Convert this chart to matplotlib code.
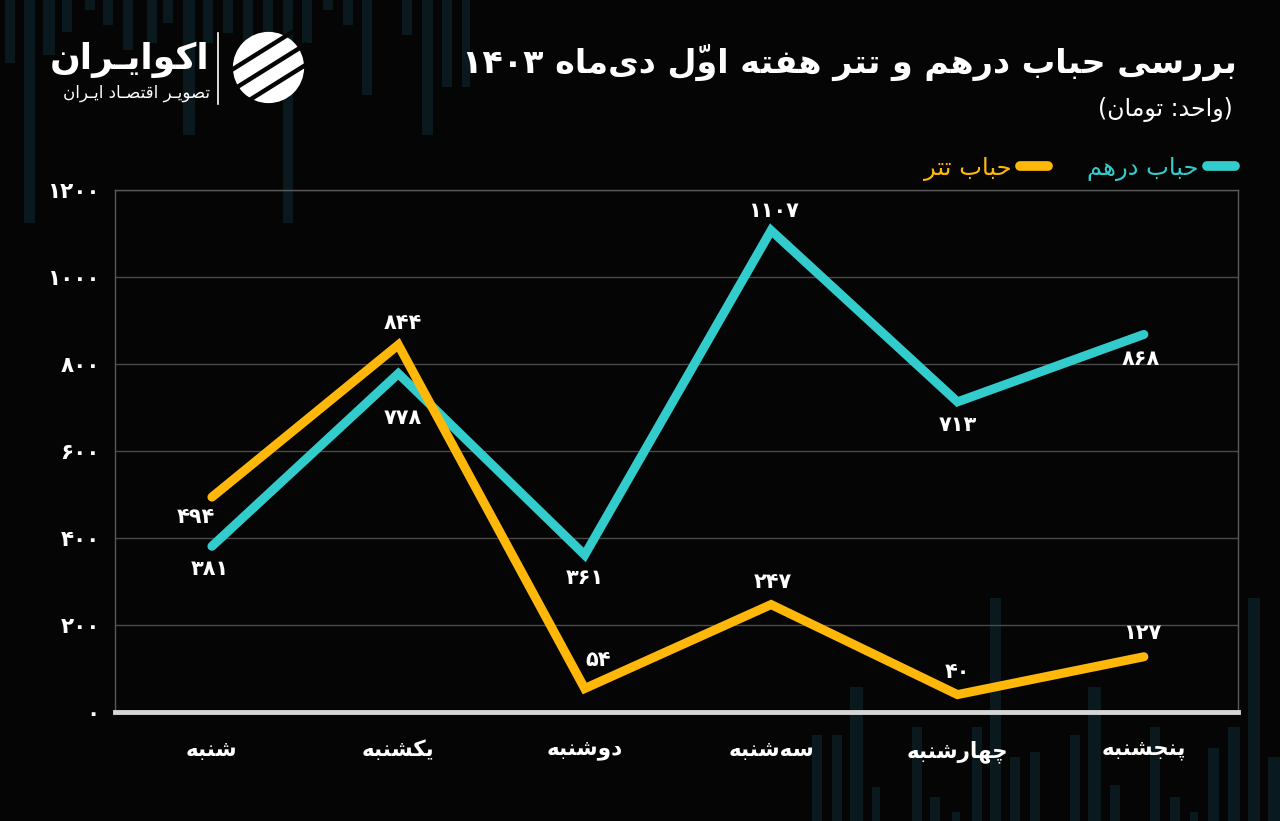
import matplotlib
matplotlib.use('Agg')
import matplotlib.pyplot as plt
from matplotlib.lines import Line2D
from matplotlib.patches import Rectangle, Circle

# ---- data ----
days = ['شنبه', 'یکشنبه', 'دوشنبه', 'سه‌شنبه', 'چهارشنبه', 'پنجشنبه']
dirham_bubble = [381, 778, 361, 1107, 713, 868]
tether_bubble = [494, 844, 54, 247, 40, 127]
y_ticks = [0, 200, 400, 600, 800, 1000, 1200]

title = 'بررسی حباب درهم و تتر هفته اوّل دی‌ماه ۱۴۰۳'
subtitle = '(واحد: تومان)'
dirham_name = 'حباب درهم'
tether_name = 'حباب تتر'
brand = 'اکوایـران'
brand_sub = 'تصویـر اقتصـاد ایـران'

# label offsets in pixels (dx, dy)
dirham_offsets = [(-2, -23), (4, -44), (0, -23), (2, 19), (0, -23), (-3, -25)]
tether_offsets = [(-16, -20), (4, 22), (13, 29), (2, 23), (0, 23), (-2, 24)]

BG = '#050505'
TEAL = '#33CCCC'
GOLD = '#FFB80A'
DECO = '#09191e'
W, H = 1280, 821

# ---- minimal arabic/persian shaping (no reshaper lib available) ----
# isolated, final, initial, medial
FORMS = {
    0x0622: (0xFE81, 0xFE82),
    0x0627: (0xFE8D, 0xFE8E),
    0x0628: (0xFE8F, 0xFE90, 0xFE91, 0xFE92),
    0x067E: (0xFB56, 0xFB57, 0xFB58, 0xFB59),
    0x062A: (0xFE95, 0xFE96, 0xFE97, 0xFE98),
    0x062B: (0xFE99, 0xFE9A, 0xFE9B, 0xFE9C),
    0x062C: (0xFE9D, 0xFE9E, 0xFE9F, 0xFEA0),
    0x0686: (0xFB7A, 0xFB7B, 0xFB7C, 0xFB7D),
    0x062D: (0xFEA1, 0xFEA2, 0xFEA3, 0xFEA4),
    0x062E: (0xFEA5, 0xFEA6, 0xFEA7, 0xFEA8),
    0x062F: (0xFEA9, 0xFEAA),
    0x0630: (0xFEAB, 0xFEAC),
    0x0631: (0xFEAD, 0xFEAE),
    0x0632: (0xFEAF, 0xFEB0),
    0x0698: (0xFB8A, 0xFB8B),
    0x0633: (0xFEB1, 0xFEB2, 0xFEB3, 0xFEB4),
    0x0634: (0xFEB5, 0xFEB6, 0xFEB7, 0xFEB8),
    0x0635: (0xFEB9, 0xFEBA, 0xFEBB, 0xFEBC),
    0x0636: (0xFEBD, 0xFEBE, 0xFEBF, 0xFEC0),
    0x0637: (0xFEC1, 0xFEC2, 0xFEC3, 0xFEC4),
    0x0638: (0xFEC5, 0xFEC6, 0xFEC7, 0xFEC8),
    0x0639: (0xFEC9, 0xFECA, 0xFECB, 0xFECC),
    0x063A: (0xFECD, 0xFECE, 0xFECF, 0xFED0),
    0x0641: (0xFED1, 0xFED2, 0xFED3, 0xFED4),
    0x0642: (0xFED5, 0xFED6, 0xFED7, 0xFED8),
    0x06A9: (0xFB8E, 0xFB8F, 0xFB90, 0xFB91),
    0x06AF: (0xFB92, 0xFB93, 0xFB94, 0xFB95),
    0x0644: (0xFEDD, 0xFEDE, 0xFEDF, 0xFEE0),
    0x0645: (0xFEE1, 0xFEE2, 0xFEE3, 0xFEE4),
    0x0646: (0xFEE5, 0xFEE6, 0xFEE7, 0xFEE8),
    0x0647: (0xFEE9, 0xFEEA, 0xFEEB, 0xFEEC),
    0x0648: (0xFEED, 0xFEEE),
    0x06CC: (0xFBFC, 0xFBFD, 0xFBFE, 0xFBFF),
    0x0640: (0x0640, 0x0640, 0x0640, 0x0640),
}
MARKS = set(range(0x064B, 0x0653)) | {0x0670}


def shape(text):
    n = len(text)

    def neighbour(i, step):
        j = i + step
        while 0 <= j < n and ord(text[j]) in MARKS:
            j += step
        return ord(text[j]) if 0 <= j < n else None

    out = []
    for i, ch in enumerate(text):
        c = ord(ch)
        if c not in FORMS:
            if c != 0x200C:
                out.append(ch)
            continue
        prev, nxt = neighbour(i, -1), neighbour(i, 1)
        join_prev = prev in FORMS and len(FORMS[prev]) == 4
        join_next = len(FORMS[c]) == 4 and nxt in FORMS
        f = FORMS[c]
        if join_prev and join_next:
            g = f[3]
        elif join_prev:
            g = f[1]
        elif join_next:
            g = f[2]
        else:
            g = f[0]
        out.append(chr(g))
    return out


def rtl(text):
    tokens = []
    for g in shape(text):
        if ord(g) in MARKS and tokens:
            # mark goes in front of its base so it lands on top of it
            tokens[-1] = g + tokens[-1]
        elif g.isdigit() and tokens and tokens[-1][-1].isdigit():
            tokens[-1] += g
        else:
            tokens.append(g)
    mirror = {'(': ')', ')': '('}
    return ''.join(mirror.get(t, t) for t in reversed(tokens))


def fa_num(v):
    return str(v).translate(str.maketrans('0123456789', '۰۱۲۳۴۵۶۷۸۹'))


plt.rcParams['font.family'] = ['DejaVu Sans']

fig = plt.figure(figsize=(W / 100, H / 100), dpi=100, facecolor=BG)

# faint candle bars in the background (decoration only)
deco_bars = [
    (5, 10, 0, 63), (24, 11, 0, 223), (43, 12, 0, 55), (62, 10, 0, 32), (85, 10, 0, 10),
    (103, 10, 0, 25), (123, 10, 0, 50), (147, 10, 0, 43), (163, 10, 0, 23), (183, 12, 0, 135),
    (203, 10, 0, 43), (223, 10, 0, 33), (243, 10, 0, 60), (263, 10, 0, 33), (283, 10, 0, 223),
    (302, 10, 0, 43), (323, 10, 0, 10), (343, 10, 0, 25), (362, 10, 0, 95), (402, 10, 0, 35),
    (422, 11, 0, 135), (442, 10, 0, 87), (462, 8, 0, 87),
    (812, 10, 735, 821), (832, 10, 735, 821), (850, 13, 687, 821), (872, 8, 787, 821),
    (912, 10, 727, 821), (930, 10, 797, 821), (952, 8, 812, 821), (972, 10, 727, 821),
    (990, 11, 598, 821), (1010, 10, 757, 821), (1030, 10, 752, 821), (1070, 10, 735, 821),
    (1088, 13, 687, 821), (1110, 10, 785, 821), (1150, 10, 727, 821), (1170, 10, 797, 821),
    (1190, 8, 812, 821), (1208, 11, 748, 821), (1228, 12, 727, 821), (1248, 12, 598, 821),
    (1268, 12, 757, 821),
]
for bx, bw, yt, yb in deco_bars:
    fig.add_artist(Rectangle((bx / W, 1 - yb / H), bw / W, (yb - yt) / H,
                             transform=fig.transFigure, color=DECO, lw=0, zorder=-5))

ax = fig.add_axes([115 / W, 1 - 712 / H, (1238 - 115) / W, (712 - 190) / H])
ax.set_facecolor('none')

x = list(range(len(days)))
ax.plot(x, dirham_bubble, color=TEAL, lw=6.5, solid_capstyle='round',
        solid_joinstyle='miter', zorder=3)
ax.plot(x, tether_bubble, color=GOLD, lw=6.5, solid_capstyle='round',
        solid_joinstyle='miter', zorder=4)

for xi, v, (dx, dy) in zip(x, dirham_bubble, dirham_offsets):
    ax.annotate(fa_num(v), (xi, v), xytext=(dx, dy), textcoords='offset pixels',
                ha='center', va='center', color='white', fontsize=15,
                fontweight='bold', zorder=6)
for xi, v, (dx, dy) in zip(x, tether_bubble, tether_offsets):
    ax.annotate(fa_num(v), (xi, v), xytext=(dx, dy), textcoords='offset pixels',
                ha='center', va='center', color='white', fontsize=15,
                fontweight='bold', zorder=6)

ax.set_xlim(-0.52, 5.505)
ax.set_ylim(0, 1200)
ax.set_yticks(y_ticks, [fa_num(v) for v in y_ticks])
ax.set_xticks(x, [rtl(d) for d in days])
ax.tick_params(axis='y', length=0, pad=11, labelcolor='white', labelsize=15.5)
ax.tick_params(axis='x', length=0, pad=20, labelcolor='white', labelsize=15.5)
for lab in ax.get_xticklabels() + ax.get_yticklabels():
    lab.set_fontweight('bold')

ax.grid(axis='y', color='#4a4a4a', lw=1)
ax.set_axisbelow(True)
for side in ['left', 'top', 'right']:
    ax.spines[side].set_color('#595959')
    ax.spines[side].set_linewidth(1)
ax.spines['bottom'].set_color('#d6d6d6')
ax.spines['bottom'].set_linewidth(3.5)

handles = [Line2D([], [], color=GOLD, lw=7, solid_capstyle='round'),
           Line2D([], [], color=TEAL, lw=7, solid_capstyle='round')]
ax.legend(handles, [rtl(tether_name), rtl(dirham_name)], ncol=2, loc='lower right',
          bbox_to_anchor=(0.997, 1.018), frameon=False, markerfirst=False,
          handlelength=1.15, handletextpad=0.35, columnspacing=1.6,
          fontsize=17.5, labelcolor=[GOLD, TEAL], borderaxespad=0, borderpad=0)

# titles
fig.text(1237 / W, 1 - 62 / H, rtl(title), ha='right', va='center',
         fontsize=24, fontweight='bold', color='white')
fig.text(1233 / W, 1 - 110 / H, rtl(subtitle), ha='right', va='center',
         fontsize=17, color='white')

# logo
fig.text(210 / W, 1 - 60 / H, rtl(brand), ha='right', va='center',
         fontsize=26, fontweight='bold', color='white')
fig.text(210 / W, 1 - 93 / H, rtl(brand_sub), ha='right', va='center',
         fontsize=12, color='white')
fig.add_artist(Line2D([218 / W, 218 / W], [1 - 33 / H, 1 - 104 / H],
                      transform=fig.transFigure, color='white', lw=1.2))

icon = fig.add_axes([231 / W, 1 - 105 / H, 75 / W, 75 / H])
icon.set_xlim(-1, 1)
icon.set_ylim(-1, 1)
icon.axis('off')
icon.add_patch(Circle((0, 0), 0.95, color='white', lw=0))
for off in [-0.55, 0.0, 0.55]:
    icon.plot([-1.2, 1.2], [off - 0.75, off + 0.75], color=BG, lw=3.2,
              solid_capstyle='butt')

plt.savefig('out.png', dpi=100, facecolor=BG)
